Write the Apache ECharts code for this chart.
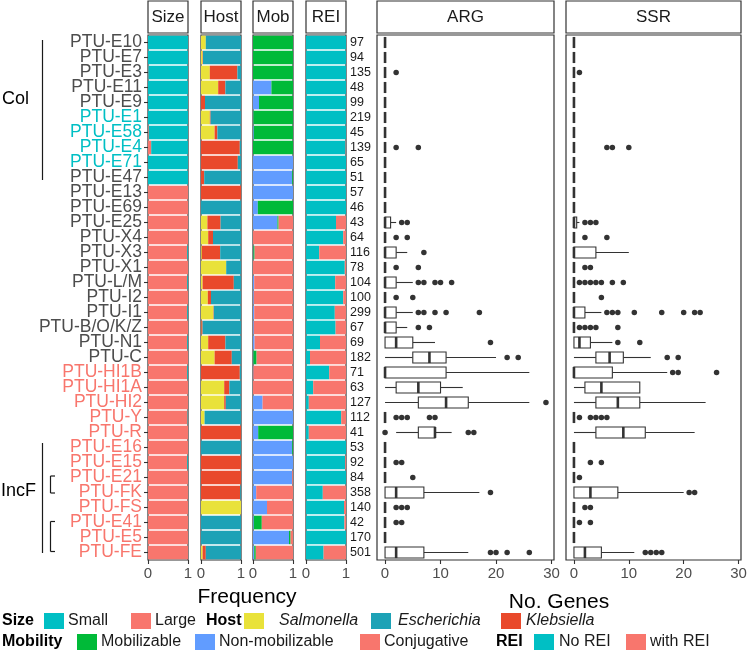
<!DOCTYPE html>
<html><head><meta charset="utf-8">
<script src="https://cdn.jsdelivr.net/npm/echarts@6/dist/echarts.min.js"></script>
<style>html,body{margin:0;padding:0;background:#fff}#c{width:750px;height:658px}</style>
</head><body><div id="c"></div>
<script>
const categories = ['PTU-E10','PTU-E7','PTU-E3','PTU-E11','PTU-E9','PTU-E1','PTU-E58','PTU-E4','PTU-E71','PTU-E47','PTU-E13','PTU-E69','PTU-E25','PTU-X4','PTU-X3','PTU-X1','PTU-L/M','PTU-I2','PTU-I1','PTU-B/O/K/Z','PTU-N1','PTU-C','PTU-HI1B','PTU-HI1A','PTU-HI2','PTU-Y','PTU-R','PTU-E16','PTU-E15','PTU-E21','PTU-FK','PTU-FS','PTU-E41','PTU-E5','PTU-FE'];
const counts = [97,94,135,48,99,219,45,139,65,51,57,46,43,64,116,78,104,100,299,67,69,182,71,63,127,112,41,53,92,84,358,140,42,170,501];

const sizeLarge = [0,0,.01,0,0,0,.02,.08,0,0,1,1,1,1,.98,1,.98,1,.98,1,.98,1,.98,1,1,.99,1,1,.98,1,1,1,1,1,1];
const sizeSmall = [1,1,.99,1,1,1,.98,.92,1,1,0,0,0,0,.02,0,.02,0,.02,0,.02,0,.02,0,0,.01,0,0,.02,0,0,0,0,0,0];

const hostSal = [.12,.04,.22,.43,0,.22,.34,0,0,0,0,0,.16,.18,.02,.63,.04,.17,.31,.01,.18,.34,0,.58,.58,.09,0,0,0,0,0,1,0,0,.04];
const hostKle = [0,.01,.69,.18,.10,.02,.07,.97,.92,.08,1,0,.33,.12,.46,0,.78,.08,.01,.03,.43,.43,.97,.13,.04,0,1,0,1,1,.98,0,0,0,.08];
const hostEsc = [.88,.95,.09,.39,.90,.76,.59,.03,.08,.92,0,1,.51,.70,.52,.37,.18,.75,.68,.96,.39,.23,.03,.29,.38,.91,0,1,0,0,.02,0,1,1,.88];

const mobNon = [0,0,0,.46,.15,.01,.02,0,1,.98,1,.12,.61,0,.01,0,.03,.02,.03,.02,.04,.01,.01,0,.24,1,.13,.98,1,.98,.08,.35,.02,.90,.03];
const mobMob = [1,1,1,.54,.85,.99,.98,1,0,.02,0,.88,.03,0,.03,0,0,0,0,0,0,.08,0,0,0,0,.87,.02,0,0,0,0,.20,.04,.04];
const mobCon = [0,0,0,0,0,0,0,0,0,0,0,0,.36,1,.96,1,.97,.98,.97,.98,.96,.91,.99,1,.76,0,0,0,0,.02,.92,.65,.78,.06,.93];

const reiNo = [1,1,1,1,1,1,1,.99,1,1,1,1,.75,.93,.33,.97,.73,.93,.72,.74,.35,.10,.58,.18,.07,.88,.07,1,.98,1,.42,.95,.96,1,.44];
const reiWith = [0,0,0,0,0,0,0,.01,0,0,0,0,.25,.07,.67,.03,.27,.07,.28,.26,.65,.90,.42,.82,.93,.12,.93,0,.02,0,.58,.05,.04,0,.56];

// [min, q1, median, q3, max]
const argBox = [[0,0,0,0,0],[0,0,0,0,0],[0,0,0,0,0],[0,0,0,0,0],[0,0,0,0,0],[0,0,0,0,0],[0,0,0,0,0],[0,0,0,0,0],[0,0,0,0,0],[0,0,0,0,0],[0,0,0,0,0],[0,0,0,0,0],
 [0,0,0,1,2],[0,0,0,0,0],[0,0,0,2,4],[0,0,0,0,0],[0,0,0,2,5],[0,0,0,0,0],[0,0,0,2,5],[0,0,0,2,4],[0,0,2,5,9],[0,5,8,11,20],
 [0,0,0,11,26],[0,2,6,10,14],[0,6,11,15,26],[0,0,0,0,0],[2,6,9,9,12],
 [0,0,0,0,0],[0,0,0,0,0],[0,0,0,0,0],[0,0,2,7,17],[0,0,0,0,0],[0,0,0,0,0],[0,0,0,0,0],[0,0,2,7,15]];
const argOut = [[],[],[2],[],[],[],[],[2,6],[],[],[],[],
 [3,4],[2,4],[7],[2,6],[6,7,9,10,12],[2,5],[6,7,9,11,17],[6,8],[19],[22,24],
 [],[],[29],[2,3,4,8,9],[0,15,16],
 [],[2,3],[5],[19],[2,3,4],[2,3],[],[19,20,22,26]];
const ssrBox = [[0,0,0,0,0],[0,0,0,0,0],[0,0,0,0,0],[0,0,0,0,0],[0,0,0,0,0],[0,0,0,0,0],[0,0,0,0,0],[0,0,0,0,0],[0,0,0,0,0],[0,0,0,0,0],[0,0,0,0,0],[0,0,0,0,0],
 [0,0,0,0.5,1],[0,0,0,0,0],[0,0,0,4,10],[0,0,0,0,0],[0,0,0,0,0],[0,0,0,0,0],[0,0,0,2,5],[0,0,0,0,0],[0,0,1,3,7],[0,4,6.5,9,14],
 [0,0,0,7,17],[0,2,5,12,12],[0,4,8,12,24],[0,0,0,0,0],[0,4,9,13,22],
 [0,0,0,0,0],[0,0,0,0,0],[0,0,0,0,0],[0,0,3,8,20],[0,0,0,0,0],[0,0,0,0,0],[0,0,0,0,0],[0,0,2,5,11]];
const ssrOut = [[],[],[1],[],[],[],[],[6,7,10],[],[],[],[],
 [2,3,4],[2,6],[],[2,3],[1,2,3,4,5,7,9],[5],[6,7,8,11,16,20,22,23],[1,2,3,4,8],[8,12],[17,19],
 [18,19,26],[],[],[1,3,4,5,6],[],
 [],[3,5],[1],[21,22],[2,3],[1,3],[],[13,14,15,16]];
const freqTicks = [0, 1];
const geneTicks = [0, 10, 20, 30];

const FONT = 'Liberation Sans, Arial, sans-serif';
const cyanLabels = new Set(['PTU-E1','PTU-E58','PTU-E4','PTU-E71']);
const firstRedLabel = categories.indexOf('PTU-HI1B');

const TOP = 35, H = 525;
const panels = [
  {x:148, w:40, name:'Size'}, {x:201, w:40, name:'Host'}, {x:253, w:40, name:'Mob'}, {x:306, w:40, name:'REI'},
  {x:377, w:177, name:'ARG'}, {x:566, w:175, name:'SSR'}
];
const grids = panels.map(p => ({left:p.x, top:TOP, width:p.w, height:H, show:true, borderColor:'#333', borderWidth:1.2, backgroundColor:'#fff', containLabel:false}));

const tickLab = {color:'#4D4D4D', fontSize:15, fontFamily:FONT, margin:6};
const xAxes = panels.map((p, i) => {
  const base = {gridIndex:i, type:'value', axisLine:{show:false}, splitLine:{show:false},
    axisTick:{show:true, length:4, lineStyle:{color:'#333', width:1.1}}};
  if (i < 4) return Object.assign(base, {min:0, max:1, interval:1, axisLabel:Object.assign({showMinLabel:true, showMaxLabel:true}, tickLab)});
  return Object.assign(base, {min:-1.45, max:30.45,
    axisLabel:Object.assign({customValues:geneTicks}, tickLab),
    axisTick:{show:true, length:4, customValues:geneTicks, lineStyle:{color:'#333', width:1.1}}});
});

const LS = 17.5;
const catAxis = (gi, extra) => Object.assign({gridIndex:gi, type:'category', data:categories, inverse:true,
  axisLine:{show:false}, axisTick:{show:false}, axisLabel:{show:false}, splitLine:{show:false}}, extra || {});
const yAxes = [
  catAxis(0, {axisTick:{show:true, length:4, alignWithLabel:true, lineStyle:{color:'#333', width:1.1}},
    axisLabel:{show:true, margin:6, interval:0, fontSize:LS, fontFamily:FONT,
      formatter:(v, i) => '{' + (cyanLabels.has(v) ? 'c' : (i >= firstRedLabel ? 'r' : 'g')) + '|' + v + '}',
      rich:{g:{color:'#4D4D4D', fontSize:LS, fontFamily:FONT}, c:{color:'#00BFC4', fontSize:LS, fontFamily:FONT}, r:{color:'#F8766D', fontSize:LS, fontFamily:FONT}}}}),
  catAxis(1), catAxis(2), catAxis(3),
  {gridIndex:3, type:'category', data:counts.map(String), inverse:true, position:'right',
    axisLine:{show:false}, axisTick:{show:false}, splitLine:{show:false},
    axisLabel:{show:true, interval:0, margin:4, fontSize:12.5, color:'#1a1a1a', fontFamily:FONT}},
  catAxis(4), catAxis(5)
];

const barS = (name, data, color, gi, yi, stack) => ({type:'bar', name, data, stack, xAxisIndex:gi, yAxisIndex:yi,
  barCategoryGap:'9%', itemStyle:{color}, silent:true});

function renderBox(params, api) {
  const idx = api.value(0);
  const v = [api.value(1), api.value(2), api.value(3), api.value(4), api.value(5)];
  const p = v.map(x => api.coord([x, idx]));
  const band = api.size([0, 1])[1];
  const h = band * 0.74;
  const y = p[2][1];
  const ls = {stroke:'#333', lineWidth:1.1, fill:null};
  const ch = [];
  if (v[1] > v[0]) ch.push({type:'line', shape:{x1:p[0][0], y1:y, x2:p[1][0], y2:y}, style:ls});
  if (v[4] > v[3]) ch.push({type:'line', shape:{x1:p[3][0], y1:y, x2:p[4][0], y2:y}, style:ls});
  ch.push({type:'rect', shape:{x:p[1][0], y:y - h/2, width:p[3][0] - p[1][0], height:h}, style:{stroke:'#333', lineWidth:1.1, fill:'#fff'}});
  ch.push({type:'line', shape:{x1:p[2][0], y1:y - h/2, x2:p[2][0], y2:y + h/2}, style:{stroke:'#333', lineWidth:2.6}});
  return {type:'group', children:ch};
}
const boxS = (box, xi, yi) => ({type:'custom', xAxisIndex:xi, yAxisIndex:yi, renderItem:renderBox,
  data:box.map((b, i) => [i].concat(b)), encode:{x:[1,2,3,4,5], y:0}, silent:true});
const outS = (out, xi, yi) => {
  const d = [];
  out.forEach((arr, i) => arr.forEach(v => d.push([v, i])));
  return {type:'scatter', xAxisIndex:xi, yAxisIndex:yi, data:d, symbolSize:5.5, itemStyle:{color:'#333', opacity:1}, silent:true, z:5};
};

const series = [
  barS('Large', sizeLarge, '#F8766D', 0, 0, 'size'),
  barS('Small', sizeSmall, '#00BFC4', 0, 0, 'size'),
  barS('Salmonella', hostSal, '#E9E23A', 1, 1, 'host'),
  barS('Klebsiella', hostKle, '#E9492B', 1, 1, 'host'),
  barS('Escherichia', hostEsc, '#1DA2B6', 1, 1, 'host'),
  barS('Non-mobilizable', mobNon, '#619CFF', 2, 2, 'mob'),
  barS('Mobilizable', mobMob, '#00BA38', 2, 2, 'mob'),
  barS('Conjugative', mobCon, '#F8766D', 2, 2, 'mob'),
  barS('No REI', reiNo, '#00BFC4', 3, 3, 'rei'),
  barS('with REI', reiWith, '#F8766D', 3, 3, 'rei'),
  boxS(argBox, 4, 5), outS(argOut, 4, 5),
  boxS(ssrBox, 5, 6), outS(ssrOut, 5, 6)
];

const G = [];
const txt = (text, x, y, font, fill, align, valign) => ({type:'text', silent:true, style:{text, x, y, font, fill:fill || '#1a1a1a',
  textAlign:align || 'left', align:align || 'left', textVerticalAlign:valign || 'middle', verticalAlign:valign || 'middle'}});
const ln = (x1, y1, x2, y2, w) => ({type:'line', silent:true, shape:{x1, y1, x2, y2}, style:{stroke:'#1a1a1a', lineWidth:w || 1.2}});
// strips
panels.forEach(p => {
  G.push({type:'rect', silent:true, shape:{x:p.x, y:1, width:p.w, height:32}, style:{fill:'#fff', stroke:'#333', lineWidth:1.2}});
  G.push(txt(p.name, p.x + p.w/2, 17.5, '17px ' + FONT, '#1a1a1a', 'center'));
});
// group annotations
G.push(txt('Col', 2, 99, '18px ' + FONT, '#000'));
G.push(ln(42.5, 40, 42.5, 180));
G.push(txt('IncF', 1, 491, '18px ' + FONT, '#000'));
G.push(ln(42.5, 443, 42.5, 553));
[[476, 493], [521.5, 551.5]].forEach(([a, b]) => {
  G.push(ln(50.5, a, 50.5, b));
  G.push(ln(50.5, a, 55, a));
  G.push(ln(50.5, b, 55, b));
});
// axis titles
G.push(txt('Frequency', 247, 597, '21px ' + FONT, '#000', 'center'));
G.push(txt('No. Genes', 559, 602, '21px ' + FONT, '#000', 'center'));
// legend
const key = (x, y, c) => ({type:'rect', silent:true, shape:{x, y:y - 8, width:20, height:16}, style:{fill:c}});
const L1 = 621, L2 = 642, LF = '16px ' + FONT, LB = 'bold 16px ' + FONT, LI = 'italic 16px ' + FONT;
G.push(txt('Size', 2, L1, LB, '#000'));
G.push(key(44, L1, '#00BFC4')); G.push(txt('Small', 68, L1, LF, '#1a1a1a'));
G.push(key(131, L1, '#F8766D')); G.push(txt('Large', 155, L1, LF, '#1a1a1a'));
G.push(txt('Host', 206, L1, LB, '#000'));
G.push(key(244, L1, '#E9E23A')); G.push(txt('Salmonella', 279, L1, LI, '#1a1a1a'));
G.push(key(371, L1, '#1DA2B6')); G.push(txt('Escherichia', 398, L1, LI, '#1a1a1a'));
G.push(key(501, L1, '#E9492B')); G.push(txt('Klebsiella', 526, L1, LI, '#1a1a1a'));
G.push(txt('Mobility', 2, L2, LB, '#000'));
G.push(key(77, L2, '#00BA38')); G.push(txt('Mobilizable', 101, L2, LF, '#1a1a1a'));
G.push(key(195, L2, '#619CFF')); G.push(txt('Non-mobilizable', 219, L2, LF, '#1a1a1a'));
G.push(key(360, L2, '#F8766D')); G.push(txt('Conjugative', 384, L2, LF, '#1a1a1a'));
G.push(txt('REI', 496, L2, LB, '#000'));
G.push(key(534, L2, '#00BFC4')); G.push(txt('No REI', 559, L2, LF, '#1a1a1a'));
G.push(key(626, L2, '#F8766D')); G.push(txt('with REI', 650, L2, LF, '#1a1a1a'));

const chart = echarts.init(document.getElementById('c'), null, {renderer:'canvas'});
chart.setOption({animation:false, backgroundColor:'#fff', grid:grids, xAxis:xAxes, yAxis:yAxes, series, graphic:{elements:G}});
</script></body></html>
